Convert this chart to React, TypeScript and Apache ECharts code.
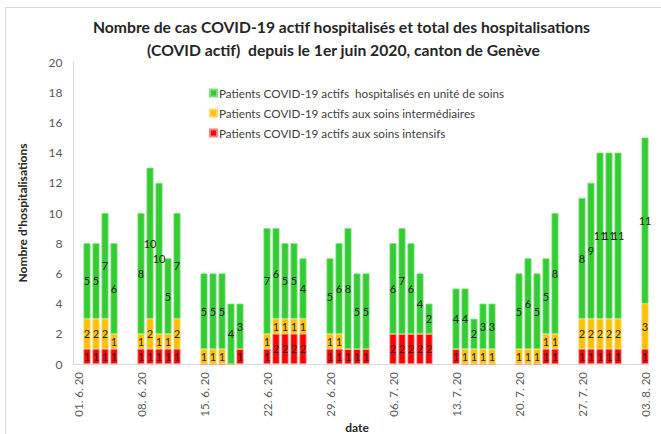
import React, { useEffect, useRef } from "react";
import * as echarts from "echarts";

const dataDays = [
  "02.06", "03.06", "04.06", "05.06",
  "08.06", "09.06", "10.06", "11.06", "12.06",
  "15.06", "16.06", "17.06", "18.06", "19.06",
  "22.06", "23.06", "24.06", "25.06", "26.06",
  "29.06", "30.06", "01.07", "02.07", "03.07",
  "06.07", "07.07", "08.07", "09.07", "10.07",
  "13.07", "14.07", "15.07", "16.07", "17.07",
  "20.07", "21.07", "22.07", "23.07", "24.07",
  "27.07", "28.07", "29.07", "30.07", "31.07",
  "03.08",
];

const intensifs = [
  1, 1, 1, 1,
  1, 1, 1, 1, 1,
  0, 0, 0, 0, 1,
  1, 2, 2, 2, 2,
  1, 1, 1, 1, 1,
  2, 2, 2, 2, 2,
  1, 0, 0, 0, 0,
  0, 0, 0, 1, 1,
  1, 1, 1, 1, 1,
  1,
];

const intermediaires = [
  2, 2, 2, 1,
  1, 2, 1, 1, 2,
  1, 1, 1, 0, 0,
  1, 1, 1, 1, 1,
  1, 1, 0, 0, 0,
  0, 0, 0, 0, 0,
  0, 1, 1, 1, 1,
  1, 1, 1, 1, 1,
  2, 2, 2, 2, 2,
  3,
];

const uniteSoins = [
  5, 5, 7, 6,
  8, 10, 10, 5, 7,
  5, 5, 5, 4, 3,
  7, 6, 5, 5, 4,
  5, 6, 8, 5, 5,
  6, 7, 6, 4, 2,
  4, 4, 2, 3, 3,
  5, 6, 5, 5, 8,
  8, 9, 11, 11, 11,
  11,
];

const seriesNames = [
  "Patients COVID-19 actifs  hospitalisés en unité de soins",
  "Patients COVID-19 actifs aux soins intermédiaires",
  "Patients COVID-19 actifs aux soins intensifs",
];

const titleLines = [
  "Nombre de cas COVID-19 actif hospitalisés et total des hospitalisations",
  "(COVID actif)  depuis le 1er juin 2020, canton de Genève",
];

const xAxisName = "date";
const yAxisName = "Nombre d'hospitalisations";

// full daily axis from 01.06.2020 to 03.08.2020
function buildAxis() {
  const keys: string[] = [];
  const labels: string[] = [];
  const start = new Date(2020, 5, 1);
  const end = new Date(2020, 7, 3);
  for (let d = new Date(start); d <= end; d.setDate(d.getDate() + 1)) {
    const dd = String(d.getDate()).padStart(2, "0");
    const mm = String(d.getMonth() + 1).padStart(2, "0");
    keys.push(dd + "." + mm);
    labels.push(dd + ". " + (d.getMonth() + 1) + ". 20");
  }
  return { keys, labels };
}

const FONT = "Lato, 'Open Sans', sans-serif";

export default function App() {
  const ref = useRef<HTMLDivElement>(null);
  useEffect(() => {
    if (!ref.current) return;
    const chart = echarts.init(ref.current, null, { renderer: "svg" });
    const { keys, labels } = buildAxis();
    const expand = (vals: number[]) =>
      keys.map((k) => {
        const i = dataDays.indexOf(k);
        return i >= 0 ? vals[i] : null;
      });
    const colors = ["#33CC33", "#FFC000", "#FF0000"];
    const borders = ["#7fe07f", "#ffd966", "#ff7f7f"];
    const mk = (name: string, vals: number[], ci: number) => ({
      name,
      type: "bar",
      stack: "total",
      barWidth: 7,
      data: expand(vals),
      itemStyle: { color: colors[ci], borderColor: borders[ci], borderWidth: 0.8 },
      label: {
        show: true,
        position: "inside",
        fontFamily: FONT,
        fontSize: 11,
        color: "#262626",
        formatter: (p: any) => (p.value ? String(p.value) : ""),
      },
    });
    const titleStyle = {
      fontFamily: FONT,
      fontWeight: "bold",
      fontSize: 15.7,
      color: "#262626",
    };
    chart.setOption({
      animation: false,
      backgroundColor: "#ffffff",
      textStyle: { fontFamily: FONT },
      title: [
        { text: titleLines[0], left: 88, top: 14, textStyle: titleStyle },
        { text: titleLines[1], left: 142, top: 37, textStyle: titleStyle },
      ],
      legend: {
        data: seriesNames,
        orient: "vertical",
        left: 204,
        top: 82,
        icon: "rect",
        itemWidth: 7,
        itemHeight: 7,
        itemGap: 8,
        textStyle: {
          fontFamily: FONT,
          fontSize: 11.7,
          color: "#404040",
          padding: [0, 0, 0, -3],
        },
      },
      graphic: [
        {
          type: "rect",
          shape: { x: 5.5, y: 7.5, width: 700, height: 500 },
          style: { fill: "none", stroke: "#d9d9d9", lineWidth: 1 },
          silent: true,
        },
        {
          type: "text",
          x: 357,
          y: 427,
          style: {
            text: xAxisName,
            fontFamily: FONT,
            fontWeight: "bold",
            fontSize: 12,
            fill: "#262626",
            align: "center",
            verticalAlign: "middle",
          },
          silent: true,
        },
      ],
      grid: {
        left: 73.5,
        right: 11.5,
        top: 62,
        bottom: 70,
        containLabel: false,
        outerBoundsMode: "none",
      },
      xAxis: {
        type: "category",
        data: labels,
        axisLine: { lineStyle: { color: "#d9d9d9" } },
        axisTick: { show: false },
        axisLabel: {
          interval: 6,
          rotate: 90,
          margin: 8,
          fontFamily: FONT,
          fontSize: 11.5,
          color: "#595959",
        },
      },
      yAxis: {
        type: "value",
        min: 0,
        max: 20,
        interval: 2,
        name: yAxisName,
        nameLocation: "middle",
        nameGap: 45,
        nameTextStyle: { fontFamily: FONT, fontWeight: "bold", fontSize: 12, color: "#262626" },
        axisLine: { show: true, lineStyle: { color: "#d9d9d9" } },
        axisTick: { show: false },
        splitLine: { show: false },
        axisLabel: { fontFamily: FONT, fontSize: 12, color: "#595959", margin: 11 },
      },
      series: [
        mk(seriesNames[2], intensifs, 2),
        mk(seriesNames[1], intermediaires, 1),
        mk(seriesNames[0], uniteSoins, 0),
      ],
    });
    return () => chart.dispose();
  }, []);
  return (
    <div
      ref={ref}
      style={{ position: "fixed", left: 0, top: 0, width: 661, height: 434 }}
    />
  );
}
